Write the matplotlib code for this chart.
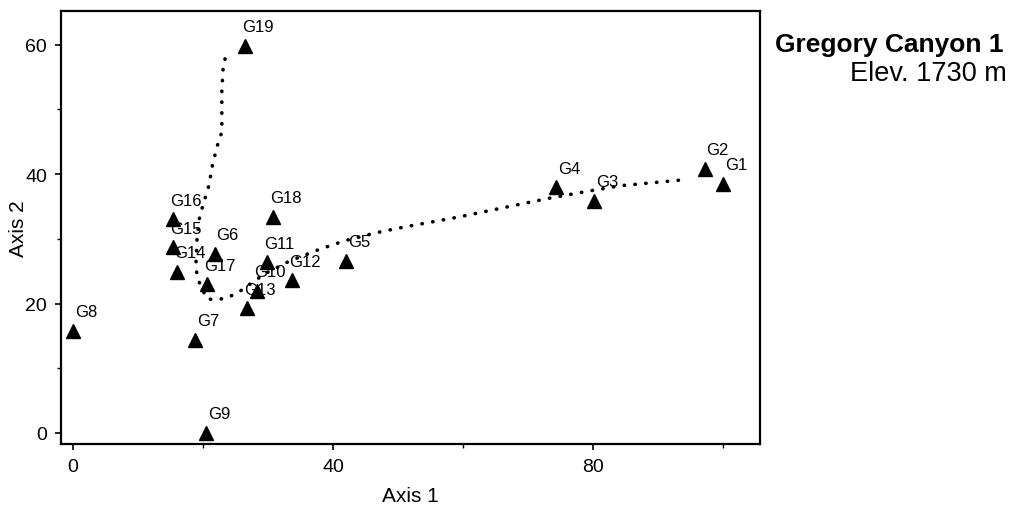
import matplotlib
matplotlib.use("Agg")
import matplotlib.pyplot as plt
from matplotlib.ticker import MultipleLocator

plt.rcParams['font.family'] = ['Liberation Sans', 'DejaVu Sans']

# site scores (Axis 1, Axis 2)
names = ['G1', 'G2', 'G3', 'G4', 'G5', 'G6', 'G7', 'G8', 'G9', 'G10',
         'G11', 'G12', 'G13', 'G14', 'G15', 'G16', 'G17', 'G18', 'G19']
axis1 = [100.0, 97.2, 80.2, 74.3, 42.0, 21.8, 18.8, 0.0, 20.5, 28.3,
         29.8, 33.7, 26.8, 16.0, 15.4, 15.4, 20.6, 30.8, 26.5]
axis2 = [38.5, 40.8, 35.9, 38.0, 26.6, 27.7, 14.4, 15.8, 0.0, 22.0,
         26.4, 23.6, 19.3, 24.9, 28.7, 33.0, 23.0, 33.4, 59.8]

# dotted trend curve
trend_x = [23.4, 23.1, 22.9, 22.9, 22.9, 22.3, 21.5, 20.9, 19.5, 19.1, 18.9,
           19.2, 20.6, 22.2, 23.8, 25.7, 29.5, 33.4, 38.0, 41.8, 46.5, 50.3,
           59.5, 72.9, 79.5, 84.2, 93.8]
trend_y = [57.8, 56.3, 52.9, 49.8, 46.5, 44.7, 41.6, 38.2, 33.5, 30.3, 25.7,
           23.8, 20.7, 20.6, 20.9, 21.9, 24.6, 26.6, 28.4, 29.7, 30.9, 31.7,
           33.4, 36.2, 37.4, 38.2, 39.1]

fig = plt.figure(figsize=(10.16, 5.10), dpi=100)
ax = fig.add_axes([0.060, 0.1275, 0.688, 0.849])

ax.plot(trend_x, trend_y, color='black', lw=2.6, linestyle=(0, (0.1, 2.9)),
        dash_capstyle='round', solid_capstyle='round')
ax.plot(axis1, axis2, ls='none', marker='^', ms=10, color='black')

for n, x, y in zip(names, axis1, axis2):
    ax.annotate(n, (x, y), xytext=(13, 19), textcoords='offset pixels',
                ha='center', va='center', fontsize=12)

ax.set_xlim(-1.85, 105.7)
ax.set_ylim(-1.7, 65.2)
ax.xaxis.set_major_locator(MultipleLocator(40))
ax.xaxis.set_minor_locator(MultipleLocator(20))
ax.yaxis.set_major_locator(MultipleLocator(20))
ax.yaxis.set_minor_locator(MultipleLocator(10))
ax.tick_params(which='major', direction='out', length=4, width=1.2, labelsize=14, pad=6)
ax.tick_params(which='minor', direction='out', length=3, width=1.0)
ax.tick_params(top=False, right=False)
for s in ax.spines.values():
    s.set_linewidth(1.6)

ax.set_xlabel('Axis 1', fontsize=15, labelpad=8)
ax.set_ylabel('Axis 2', fontsize=15, va='center')
ax.yaxis.set_label_coords(-0.061, 0.5)

fig.text(0.988, 0.912, 'Gregory Canyon 1', ha='right', va='center',
         fontsize=19, fontweight='bold')
fig.text(0.991, 0.855, 'Elev. 1730 m', ha='right', va='center', fontsize=19.5)

fig.savefig('out.png', dpi=100)
